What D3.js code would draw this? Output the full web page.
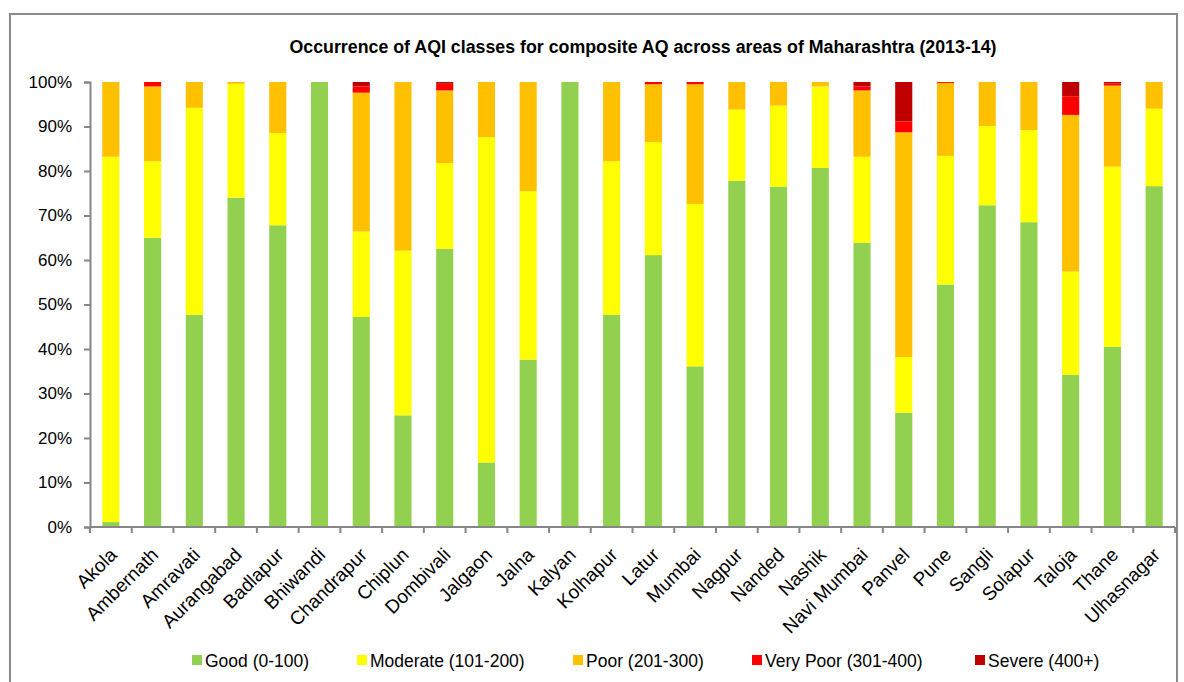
<!DOCTYPE html>
<html>
<head>
<meta charset="utf-8">
<script src="https://cdn.jsdelivr.net/npm/d3@7"></script>
<style>
  body { margin: 0; background: #fff; }
  svg { font-family: "Liberation Sans", Arial, sans-serif; }
</style>
</head>
<body>
<script>
// Areas of Maharashtra
var areas = ["Akola", "Ambernath", "Amravati", "Aurangabad", "Badlapur", "Bhiwandi",
  "Chandrapur", "Chiplun", "Dombivali", "Jalgaon", "Jalna", "Kalyan", "Kolhapur",
  "Latur", "Mumbai", "Nagpur", "Nanded", "Nashik", "Navi Mumbai", "Panvel", "Pune",
  "Sangli", "Solapur", "Taloja", "Thane", "Ulhasnagar"];

// share of days (%) in each AQI class
var good     = [1.1, 65.0, 47.7, 74.0, 67.8, 100, 47.2, 25.1, 62.5, 14.5, 37.6, 100, 47.7,
                61.1, 36.1, 77.8, 76.5, 80.7, 63.9, 25.7, 54.5, 72.3, 68.5, 34.2, 40.5, 76.6];
var moderate = [82.1, 17.2, 46.5, 25.6, 20.7, 0, 19.2, 37.0, 19.3, 73.1, 37.9, 0, 34.5,
                25.4, 36.5, 16.0, 18.2, 18.3, 19.3, 12.5, 28.9, 17.8, 20.7, 23.2, 40.5, 17.4];
var poor     = [16.8, 16.8, 5.8, 0.4, 11.5, 0, 31.2, 37.9, 16.3, 12.4, 24.5, 0, 17.8,
                13.0, 26.9, 6.2, 5.3, 1.0, 14.9, 50.5, 16.4, 9.9, 10.8, 35.2, 18.2, 6.0];
var veryPoor = [0, 1.0, 0, 0, 0, 0, 1.4, 0, 1.5, 0, 0, 0, 0,
                0.5, 0.5, 0, 0, 0, 0.9, 2.4, 0.2, 0, 0, 4.2, 0.5, 0];
var severe   = [0, 0, 0, 0, 0, 0, 1.0, 0, 0.4, 0, 0, 0, 0,
                0, 0, 0, 0, 0, 1.0, 8.9, 0, 0, 0, 3.2, 0.3, 0];

var classes = ["Good (0-100)", "Moderate (101-200)", "Poor (201-300)", "Very Poor (301-400)", "Severe (400+)"];
var colors = ["#92D050", "#FFFF00", "#FFC000", "#FF0000", "#C00000"];
var yTicks = [0, 10, 20, 30, 40, 50, 60, 70, 80, 90, 100];

var width = 1184, height = 682;
var margin = {top: 82, left: 90, right: 1175, bottom: 527};

var svg = d3.select(document.body).append("svg").attr("width", width).attr("height", height);

// outer chart border
svg.append("rect")
  .attr("x", 10).attr("y", 14)
  .attr("width", 1167).attr("height", 690)
  .attr("fill", "none").attr("stroke", "#8a8a8a").attr("stroke-width", 2);

// title
svg.append("text")
  .attr("x", 643).attr("y", 53)
  .attr("text-anchor", "middle")
  .attr("font-weight", "bold")
  .attr("font-size", 18)
  .attr("textLength", 707)
  .attr("lengthAdjust", "spacingAndGlyphs")
  .text("Occurrence of AQI classes for composite AQ across areas of Maharashtra (2013-14)");

// build rows for the stack
var keys = ["good", "moderate", "poor", "veryPoor", "severe"];
var rows = areas.map(function(a, i) {
  return {area: a, good: good[i], moderate: moderate[i], poor: poor[i], veryPoor: veryPoor[i], severe: severe[i]};
});
var series = d3.stack().keys(keys)(rows);

var x = d3.scaleBand().domain(areas).range([margin.left, margin.right]).paddingInner(0.59).paddingOuter(0.295);
var y = d3.scaleLinear().domain([0, 100]).range([margin.bottom, margin.top]);

// bars
var g = svg.append("g");
g.selectAll("g.series")
  .data(series)
  .enter().append("g")
  .attr("class", "series")
  .attr("fill", function(d, i) { return colors[i]; })
  .selectAll("rect")
  .data(function(d) { return d; })
  .enter().append("rect")
  .attr("x", function(d) { return x(d.data.area); })
  .attr("width", x.bandwidth())
  .attr("y", function(d) { return y(Math.min(100, d[1])); })
  .attr("height", function(d) { return Math.max(0, y(d[0]) - y(Math.min(100, d[1]))); });

// y axis
var yAxis = svg.append("g")
  .attr("transform", "translate(" + margin.left + ",0)")
  .call(d3.axisLeft(y).tickValues(yTicks).tickSize(6).tickPadding(12).tickFormat(function(d) { return d + "%"; }));
yAxis.selectAll("line, path").attr("stroke", "#868686").attr("stroke-width", 2);
yAxis.selectAll("text").attr("font-size", 17).attr("fill", "#000")
  .attr("font-family", "'Liberation Sans', Arial, sans-serif");

// x axis: ticks sit between the bars
var xAxis = svg.append("g").attr("transform", "translate(0," + margin.bottom + ")");
xAxis.append("line")
  .attr("x1", margin.left).attr("x2", margin.right)
  .attr("stroke", "#868686").attr("stroke-width", 2);
var step = x.step();
xAxis.selectAll("line.tick")
  .data(d3.range(areas.length + 1))
  .enter().append("line")
  .attr("class", "tick")
  .attr("x1", function(i) { return margin.left + i * step; })
  .attr("x2", function(i) { return margin.left + i * step; })
  .attr("y1", 0).attr("y2", 6)
  .attr("stroke", "#868686").attr("stroke-width", 2);
xAxis.selectAll("text")
  .data(areas)
  .enter().append("text")
  .attr("transform", function(d) {
    return "translate(" + (x(d) + x.bandwidth() / 2 + 7) + ",29) rotate(-45)";
  })
  .attr("text-anchor", "end")
  .attr("font-size", 19)
  .text(function(d) { return d; });

// legend
var legendX = [192, 357, 573, 752, 975];
var legend = svg.append("g").attr("transform", "translate(0,661)");
var item = legend.selectAll("g")
  .data(classes)
  .enter().append("g")
  .attr("transform", function(d, i) { return "translate(" + legendX[i] + ",0)"; });
item.append("rect")
  .attr("x", 0).attr("y", -6)
  .attr("width", 10).attr("height", 10)
  .attr("fill", function(d, i) { return colors[i]; });
item.append("text")
  .attr("x", 13).attr("y", 0)
  .attr("dy", "0.35em")
  .attr("font-size", 17.5)
  .text(function(d) { return d; });
</script>
</body>
</html>
